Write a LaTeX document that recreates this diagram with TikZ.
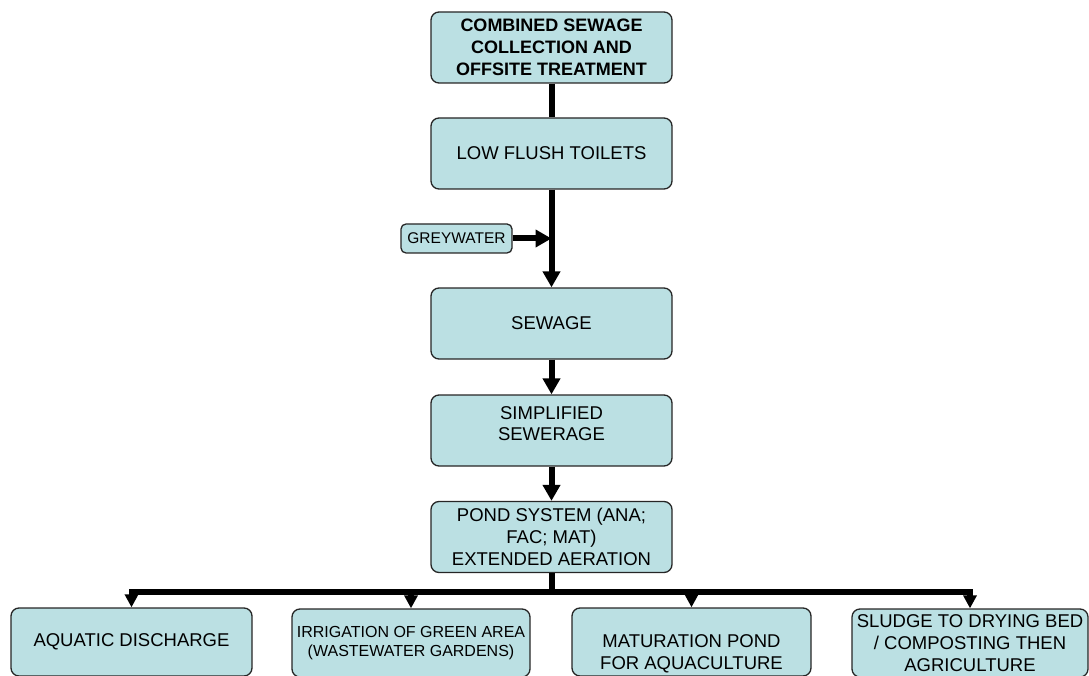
\documentclass[tikz,border=0pt]{standalone}
\usepackage{fontspec}
\setmainfont{Liberation Sans}
\usepackage{xcolor}
\usepackage{tikz}
\usetikzlibrary{arrows.meta}

\definecolor{boxblue}{RGB}{187,224,227}

\tikzset{
  stagebox/.style={draw=black!85, line width=1.3pt, fill=boxblue, rounded corners=8pt,
    inner sep=0pt, align=center, minimum width=241pt, minimum height=71pt,
    font=\fontsize{18.5}{21.7}\selectfont},
  flow/.style={line width=6pt, -{Triangle[length=16pt,width=17pt]}},
  branch/.style={line width=6pt, -{Triangle[length=13pt,width=13pt]}}
}

\begin{document}
\begin{tikzpicture}[x=1pt, y=-1pt]
                \useasboundingbox (0,0) rectangle (1089,676);
                % Main chain of treatment stages
                \node[stagebox, font=\fontsize{18}{21.7}\selectfont\bfseries] (combined) at (551.5,47.5) {COMBINED SEWAGE\\COLLECTION AND\\OFFSITE TREATMENT};
                \node[stagebox] (toilets) at (551.5,153.5) {LOW FLUSH TOILETS};
                \node[stagebox, minimum width=111pt, minimum height=29pt, rounded corners=5pt,
                      font=\fontsize{15.5}{18}\selectfont] (grey) at (456.5,238.5) {GREYWATER};
                \node[stagebox] (sewage) at (551.5,323.5) {SEWAGE};
                \node[stagebox] (simplified) at (551.5,430.5) {SIMPLIFIED\\SEWERAGE\\[-8pt]\mbox{}};
                \node[stagebox] (pond) at (551.5,537) {POND SYSTEM (ANA;\\FAC; MAT)\\EXTENDED AERATION};
                % End uses
                \node[stagebox, minimum width=241pt, minimum height=68pt] (aquatic) at (131.5,642) {AQUATIC DISCHARGE};
                \node[stagebox, minimum width=238pt, minimum height=68pt,
                      font=\fontsize{16}{18.3}\selectfont] (irrigation) at (411,643) {IRRIGATION OF GREEN AREA\\(WASTEWATER GARDENS)};
                \node[stagebox, minimum width=239pt, minimum height=68pt] (maturation) at (691.5,642) {\strut\\MATURATION POND\\FOR AQUACULTURE};
                \node[stagebox, minimum width=236pt, minimum height=68pt] (sludge) at (970,643) {SLUDGE TO DRYING BED\\/ COMPOSTING THEN\\AGRICULTURE};
                % Connectors
                \coordinate (hub) at (551.5,592);
                \draw[line width=6pt] (combined) -- (toilets);
                \draw[flow] (toilets) -- (sewage);
                \draw[flow] (grey.east) -- (grey.east -| toilets.south);
                \draw[flow] (sewage) -- (simplified);
                \draw[flow] (simplified) -- (pond);
                \draw[line width=6pt] (pond.south) -- (hub);
                \foreach \target in {aquatic, irrigation, maturation, sludge}
                  \draw[branch] (hub) -| (\target.north);
            \end{tikzpicture}
\end{document}
